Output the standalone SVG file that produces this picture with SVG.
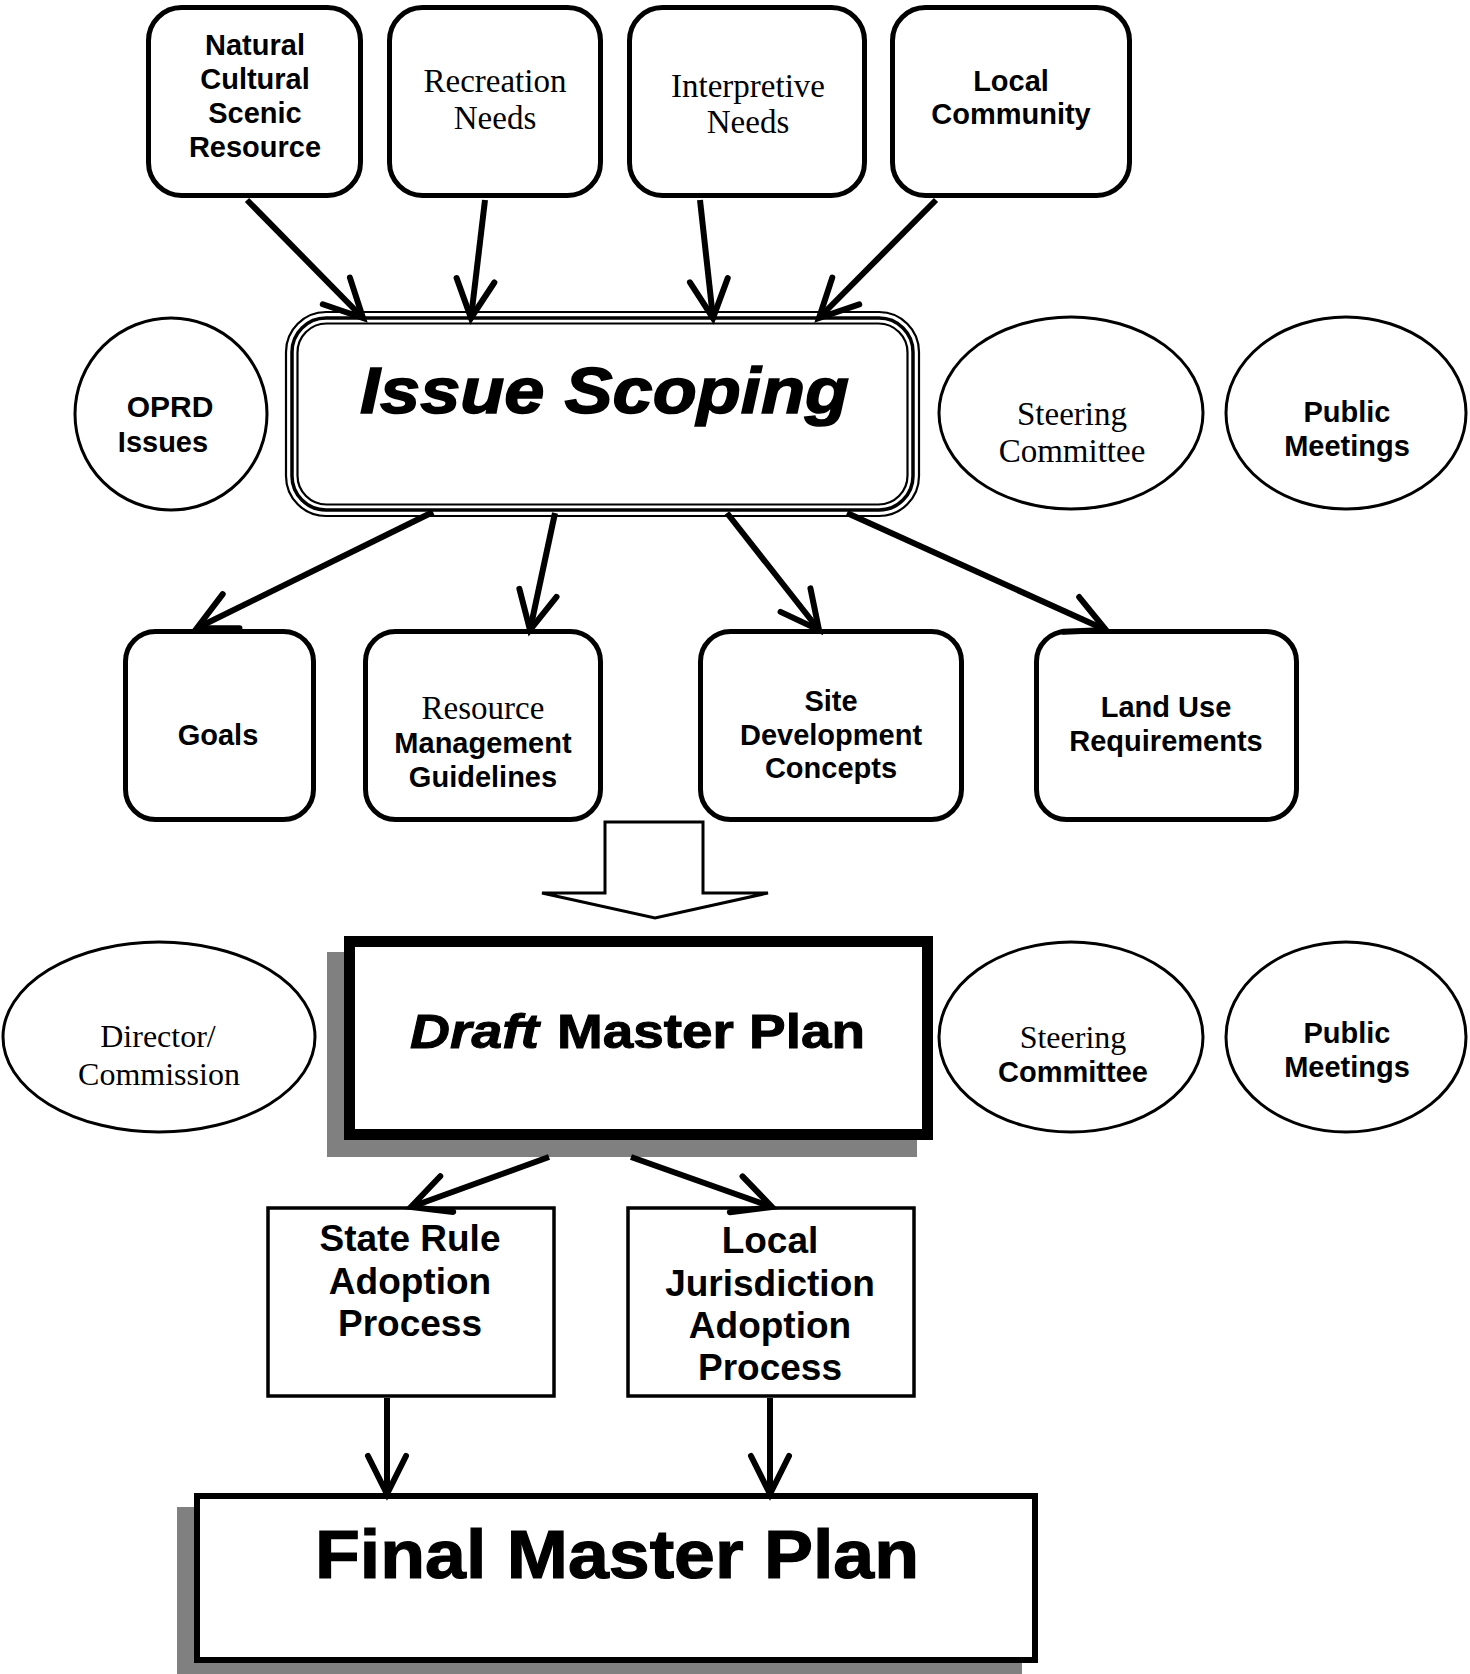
<svg xmlns="http://www.w3.org/2000/svg" width="1470" height="1674" viewBox="0 0 1470 1674">
<style>
.bx{fill:#fff;stroke:#000;stroke-width:5}
.el{fill:#fff;stroke:#000;stroke-width:3}
.sq{fill:#fff;stroke:#000;stroke-width:3.5}
.sh{fill:#808080;stroke:none}
.b{font-family:"Liberation Sans",Arial,sans-serif;font-weight:bold;font-size:29px;fill:#000;text-anchor:middle}
.s{font-family:"Liberation Serif","Times New Roman",serif;font-size:33px;fill:#000;text-anchor:middle}
.s32{font-size:32px}
.b30{font-size:30px}
.b37{font-size:37px}
.big{font-family:"Liberation Sans",Arial,sans-serif;font-weight:bold;fill:#000;stroke:#000}
.cn{fill:none;stroke:#000;stroke-width:6;marker-end:url(#ah)}
</style>
<defs>
<marker id="ah" markerUnits="userSpaceOnUse" markerWidth="80" markerHeight="80" viewBox="-45 -40 80 80" refX="0" refY="0" orient="auto" overflow="visible">
<path d="M-38,-19 L0,0 L-38,19" fill="none" stroke="#000" stroke-width="6" stroke-linecap="round" stroke-linejoin="miter"/>
</marker>
</defs>
<rect width="1470" height="1674" fill="#fff"/>

<g id="natural">
<rect class="bx" x="148.5" y="7.5" width="212" height="188" rx="33"/>
<text class="b" x="255" y="55">Natural</text>
<text class="b" x="255" y="89">Cultural</text>
<text class="b" x="255" y="123">Scenic</text>
<text class="b" x="255" y="157">Resource</text>
</g>
<g id="recreation">
<rect class="bx" x="389.5" y="7.5" width="211" height="188" rx="33"/>
<text class="s" x="495" y="92">Recreation</text>
<text class="s" x="495" y="129">Needs</text>
</g>
<g id="interpretive">
<rect class="bx" x="629.5" y="7.5" width="235" height="188" rx="33"/>
<text class="s" x="748" y="97">Interpretive</text>
<text class="s" x="748" y="133">Needs</text>
</g>
<g id="localcommunity">
<rect class="bx" x="892.5" y="7.5" width="237" height="188" rx="33"/>
<text class="b" x="1011" y="91">Local</text>
<text class="b" x="1011" y="124">Community</text>
</g>

<g id="issuescoping">
<rect x="286" y="312" width="633" height="204" rx="40" fill="#fff" stroke="#000" stroke-width="2.2"/>
<rect x="292" y="318" width="621" height="192" rx="34" fill="none" stroke="#000" stroke-width="3.5"/>
<rect x="297.5" y="323.5" width="610" height="181" rx="29" fill="none" stroke="#000" stroke-width="2.2"/>
<text class="big" x="360" y="413" font-size="64" font-style="italic" stroke-width="1.5" textLength="489" lengthAdjust="spacingAndGlyphs">Issue Scoping</text>
</g>

<g id="oprd">
<ellipse class="el" cx="171" cy="414" rx="96" ry="96"/>
<text class="b b30" x="170" y="417">OPRD</text>
<text class="b" x="163" y="452">Issues</text>
</g>
<g id="steering1">
<ellipse class="el" cx="1071" cy="413" rx="132" ry="96"/>
<text class="s" x="1072" y="425">Steering</text>
<text class="s" x="1072" y="462">Committee</text>
</g>
<g id="public1">
<ellipse class="el" cx="1346" cy="413" rx="120" ry="96"/>
<text class="b" x="1347" y="422">Public</text>
<text class="b" x="1347" y="456">Meetings</text>
</g>

<g id="goals">
<rect class="bx" x="125.5" y="631.5" width="188" height="188" rx="30"/>
<text class="b" x="218" y="745">Goals</text>
</g>
<g id="resourcemgmt">
<rect class="bx" x="365.5" y="631.5" width="235" height="188" rx="30"/>
<text class="s" x="483" y="719">Resource</text>
<text class="b" x="483" y="753">Management</text>
<text class="b" x="483" y="787">Guidelines</text>
</g>
<g id="sitedev">
<rect class="bx" x="700.5" y="631.5" width="261" height="188" rx="30"/>
<text class="b" x="831" y="711">Site</text>
<text class="b" x="831" y="745">Development</text>
<text class="b" x="831" y="778">Concepts</text>
</g>
<g id="landuse">
<rect class="bx" x="1036.5" y="631.5" width="260" height="188" rx="30"/>
<text class="b" x="1166" y="717">Land Use</text>
<text class="b" x="1166" y="751">Requirements</text>
</g>

<g id="director">
<ellipse class="el" cx="159" cy="1037" rx="156" ry="95"/>
<text class="s s32" x="158" y="1047">Director/</text>
<text class="s s32" x="159" y="1085">Commission</text>
</g>
<g id="draft">
<rect class="sh" x="327" y="952" width="590" height="205"/>
<rect x="349.5" y="941.5" width="578" height="193" fill="#fff" stroke="#000" stroke-width="11"/>
<text class="big" x="410" y="1048" font-size="49" font-style="italic" stroke-width="1" textLength="129" lengthAdjust="spacingAndGlyphs">Draft</text>
<text class="big" x="557" y="1048" font-size="49" stroke-width="1" textLength="308" lengthAdjust="spacingAndGlyphs">Master Plan</text>
</g>
<g id="steering2">
<ellipse class="el" cx="1071" cy="1037" rx="132" ry="95"/>
<text class="s s32" x="1073" y="1048">Steering</text>
<text class="b" x="1073" y="1082">Committee</text>
</g>
<g id="public2">
<ellipse class="el" cx="1346" cy="1037" rx="120" ry="95"/>
<text class="b" x="1347" y="1043">Public</text>
<text class="b" x="1347" y="1077">Meetings</text>
</g>

<g id="staterule">
<rect class="sq" x="268" y="1208" width="286" height="188"/>
<text class="b b37" x="410" y="1251">State Rule</text>
<text class="b b37" x="410" y="1294">Adoption</text>
<text class="b b37" x="410" y="1336">Process</text>
</g>
<g id="localjur">
<rect class="sq" x="628" y="1208" width="286" height="188"/>
<text class="b b37" x="770" y="1253">Local</text>
<text class="b b37" x="770" y="1296">Jurisdiction</text>
<text class="b b37" x="770" y="1338">Adoption</text>
<text class="b b37" x="770" y="1380">Process</text>
</g>

<g id="final">
<rect class="sh" x="177" y="1507" width="845" height="167"/>
<rect x="197" y="1496" width="838" height="164" fill="#fff" stroke="#000" stroke-width="6"/>
<text class="big" x="315" y="1578" font-size="69" stroke-width="1.2" textLength="604" lengthAdjust="spacingAndGlyphs">Final Master Plan</text>
</g>

<g id="connectors">
<path class="cn" d="M247,200 L363,318"/>
<path class="cn" d="M485,200 L471,318"/>
<path class="cn" d="M700,200 L713,318"/>
<path class="cn" d="M936,200 L819,318"/>
<path class="cn" d="M433,512 L197,628"/>
<path class="cn" d="M555,513 L530,630"/>
<path class="cn" d="M727,513 L819,630"/>
<path class="cn" d="M847,513 L1106,630"/>
<polygon points="605,822 703,822 703,893 768,893 655,918 542,893 605,893" fill="#fff" stroke="#000" stroke-width="3"/>
<path class="cn" d="M549,1157 L411,1207"/>
<path class="cn" d="M631,1157 L772,1207"/>
<path class="cn" d="M387,1398 L387,1494"/>
<path class="cn" d="M770,1398 L770,1494"/>
</g>
</svg>
